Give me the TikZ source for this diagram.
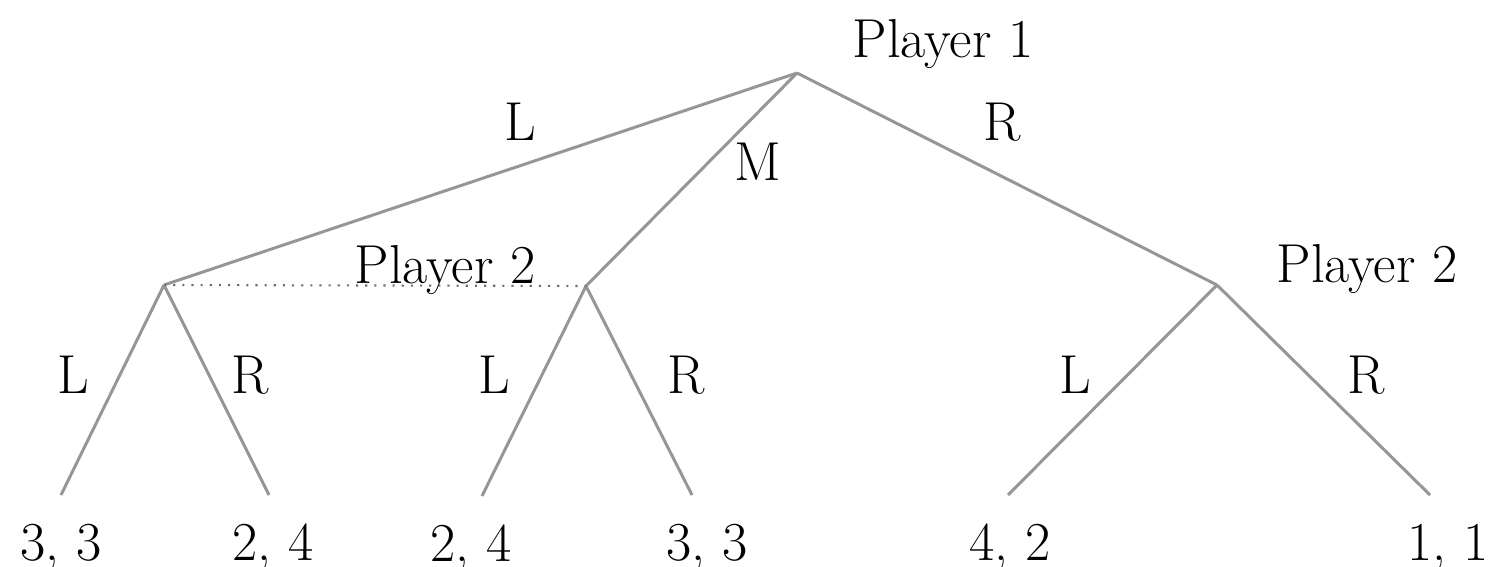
\documentclass[tikz,border=0pt]{standalone}
\usepackage{fontspec}
\definecolor{branchgray}{RGB}{150,150,150}
\definecolor{infogray}{RGB}{110,110,110}
\begin{document}
\begin{tikzpicture}[x=0.01cm,y=-0.01cm,font=\rmfamily\fontsize{15.6}{18}\selectfont]
\tikzstyle{every node}+=[inner sep=0pt]
\tikzstyle{branch}=[draw=branchgray, line width=0.85pt]
\tikzstyle{infoset}=[draw=infogray, line width=0.6pt, dotted]
\tikzstyle{lbl}=[anchor=base]
\useasboundingbox (0,0) rectangle (1488,567);
% decision nodes
\coordinate (root) at (797,73);
\coordinate (twoL) at (164,285);
\coordinate (twoM) at (586,286);
\coordinate (twoR) at (1217,285);
% terminal nodes
\coordinate (LL) at (61,495);
\coordinate (LR) at (269,495);
\coordinate (ML) at (482,496);
\coordinate (MR) at (692,495);
\coordinate (RL) at (1008,495);
\coordinate (RR) at (1430,495);
% branches
\draw [branch] (root) -- (twoL);
\draw [branch] (root) -- (twoM);
\draw [branch] (root) -- (twoR);
\draw [branch] (twoL) -- (LL);
\draw [branch] (twoL) -- (LR);
\draw [branch] (twoM) -- (ML);
\draw [branch] (twoM) -- (MR);
\draw [branch] (twoR) -- (RL);
\draw [branch] (twoR) -- (RR);
\draw [infoset] (twoL) -- (twoM);
% players
\draw (943,58) node [lbl] (p1) {Player 1};
\draw (445,283) node [lbl] (p2a) {Player 2};
\draw (1367,282) node [lbl] (p2b) {Player 2};
% actions
\draw (520,140) node [lbl] {L};
\draw (758,180) node [lbl] {M};
\draw (1002,140) node [lbl] {R};
\draw (73,393) node [lbl] {L};
\draw (250,393) node [lbl] {R};
\draw (494,393) node [lbl] {L};
\draw (686,393) node [lbl] {R};
\draw (1075,393) node [lbl] {L};
\draw (1366,393) node [lbl] {R};
% payoffs
\draw (LL) ++(0,65) node [lbl] {3, 3};
\draw (LR) ++(4,65) node [lbl] {2, 4};
\draw (ML) ++(-11,65) node [lbl] {2, 4};
\draw (MR) ++(15,65) node [lbl] {3, 3};
\draw (RL) ++(2,65) node [lbl] {4, 2};
\draw (RR) ++(18,65) node [lbl] {1, 1};
\end{tikzpicture}
\end{document}
